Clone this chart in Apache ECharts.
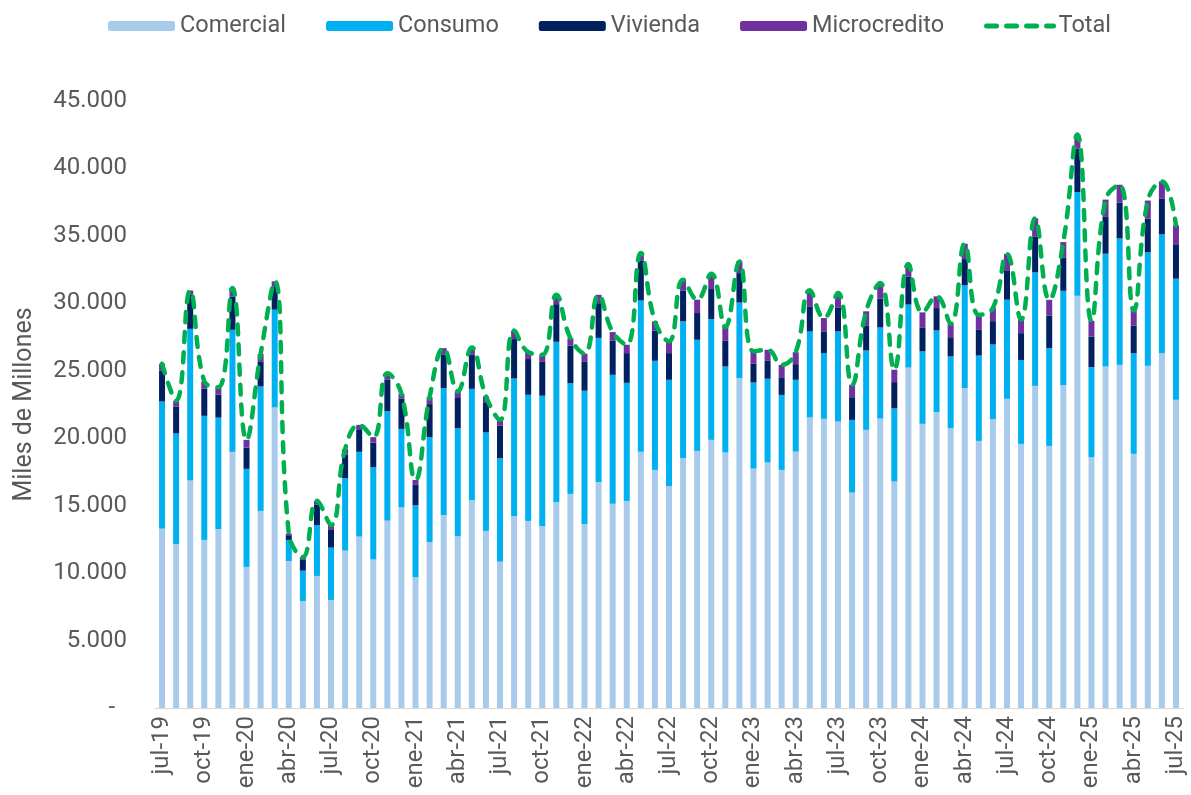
<!DOCTYPE html>
<html>
<head>
<meta charset="utf-8">
<script src="https://cdn.jsdelivr.net/npm/echarts@6/dist/echarts.min.js"></script>
<style>
  html, body { margin: 0; padding: 0; background: #fff; }
  #chart { width: 1191px; height: 795px; }
</style>
</head>
<body>
<div id="chart"></div>
<script>
// meses jul-19 .. jul-25
const monthNames = ['ene', 'feb', 'mar', 'abr', 'may', 'jun', 'jul', 'ago', 'sep', 'oct', 'nov', 'dic'];
const categories = [];
for (let i = 0; i < 73; i++) {
  const m = (6 + i) % 12;
  const y = 19 + Math.floor((6 + i) / 12);
  categories.push(monthNames[m] + '-' + y);
}

const comercial = [
  13300, 12160, 16860, 12460, 13270, 18990, 10460, 14610, 22280, 10900, 7930, 9790,
  8010, 11670, 12710, 11020, 13890, 14880, 9690, 12310, 14310, 12730, 15400, 13130,
  10850, 14240, 13870, 13500, 15250, 15870, 13650, 16760, 15150, 15350, 18990, 17650,
  16460, 18540, 19060, 19880, 18940, 24450, 17750, 18200, 17650, 19010, 21540, 21440,
  21240, 15970, 20620, 21460, 16790, 25240, 21070, 21930, 20740, 23710, 19800, 21410,
  22920, 19580, 23880, 19430, 23930, 30560, 18590, 25320, 25440, 18840, 25370, 26310,
  22850
];
const consumo = [
  9420, 8190, 11250, 9200, 8260, 9050, 7270, 9230, 7250, 1560, 2250, 3760,
  3880, 5370, 6280, 6830, 8110, 5810, 5340, 7770, 9400, 8010, 8260, 7300,
  7670, 10190, 9350, 9650, 11900, 8210, 9870, 10680, 9550, 8760, 11230, 8090,
  7870, 10120, 8240, 8950, 6380, 5610, 6380, 6210, 5560, 5320, 6380, 4870,
  6680, 5390, 5890, 6750, 5420, 4670, 5370, 6060, 5320, 7620, 6330, 5540,
  7350, 6210, 8410, 7250, 7000, 7690, 6680, 8360, 9370, 7470, 8410, 8800,
  8980
];
const vivienda = [
  2300, 2000, 2520, 2030, 1710, 2470, 1580, 1860, 1730, 350, 840, 1510,
  1310, 1730, 1680, 1830, 2330, 2250, 1510, 2450, 2470, 2300, 2520, 2180,
  2420, 2920, 2650, 2550, 2790, 2790, 2180, 2570, 2550, 2200, 2970, 2250,
  1980, 2300, 1980, 2230, 1930, 2180, 1390, 1360, 1310, 1160, 1860, 1610,
  1780, 1680, 1860, 2150, 1950, 2080, 1780, 1660, 1430, 1950, 1900, 1730,
  2180, 2000, 2670, 2420, 2470, 3220, 2270, 2770, 2670, 2050, 2500, 2670,
  2550
];
const microcredito = [
  500, 420, 320, 520, 540, 620, 570, 540, 370, 120, 170, 300,
  370, 420, 320, 400, 490, 350, 370, 520, 500, 420, 540, 500,
  420, 640, 520, 490, 690, 540, 570, 620, 620, 620, 540, 670,
  870, 790, 990, 1140, 990, 870, 920, 790, 920, 890, 1190, 990,
  1060, 920, 1040, 1140, 920, 920, 1110, 870, 990, 1140, 1110, 970,
  1210, 990, 1340, 1160, 1140, 1040, 1160, 1240, 1310, 1110, 1340, 1260,
  1410
];
const total = [
  25520, 22770, 30950, 24210, 23780, 31130, 19880, 26240, 31630, 12930, 11190, 15360,
  13570, 19190, 20990, 20080, 24820, 23290, 16910, 23050, 26680, 23460, 26720, 23110,
  21360, 27990, 26390, 26190, 30630, 27410, 26270, 30630, 27870, 26930, 33730, 28660,
  27180, 31750, 30270, 32200, 28240, 33110, 26440, 26560, 25440, 26380, 30970, 28910,
  30760, 23960, 29410, 31500, 25080, 32910, 29330, 30520, 28480, 34420, 29140, 29650,
  33660, 28780, 36300, 30260, 34540, 42510, 28700, 37690, 38790, 29470, 37620, 39040,
  35790
];

const textColor = '#595959';
const fontFamily = 'Roboto, "Liberation Sans", sans-serif';

// formato contable: separador de miles con punto, cero como guion
function formatMiles(v) {
  if (v === 0) return '-  ';
  return String(v).replace(/\B(?=(\d{3})+(?!\d))/g, '.');
}

const chart = echarts.init(document.getElementById('chart'));

const barSeries = (name, data, color) => ({
  name: name,
  type: 'bar',
  stack: 'cartera',
  data: data,
  barWidth: 6,
  itemStyle: { color: color },
  emphasis: { disabled: true }
});

chart.setOption({
  animation: false,
  textStyle: { fontFamily: fontFamily },
  legend: {
    top: 9,
    left: 103,
    itemWidth: 67,
    itemHeight: 10,
    itemGap: 40,
    textStyle: { color: textColor, fontSize: 23.5, fontFamily: fontFamily },
    data: [
      'Comercial', 'Consumo', 'Vivienda', 'Microcredito',
      { name: 'Total', itemStyle: { opacity: 0 }, lineStyle: { width: 5 } }
    ]
  },
  grid: {
    left: 155,
    right: 8,
    top: 101,
    bottom: 87,
    containLabel: false
  },
  xAxis: {
    type: 'category',
    data: categories,
    axisLine: { lineStyle: { color: '#d9d9d9', width: 1 } },
    axisTick: { show: false },
    axisLabel: {
      interval: 2,
      rotate: 90,
      color: textColor,
      fontSize: 24,
      margin: 8,
      fontFamily: fontFamily
    }
  },
  yAxis: {
    type: 'value',
    min: 0,
    max: 45000,
    interval: 5000,
    name: 'Miles de Millones',
    nameLocation: 'middle',
    nameGap: 118,
    nameTextStyle: { color: textColor, fontSize: 25, fontFamily: fontFamily },
    axisLine: { show: false },
    axisTick: { show: false },
    splitLine: { show: false },
    axisLabel: {
      color: textColor,
      fontSize: 24,
      margin: 28,
      fontFamily: fontFamily,
      formatter: formatMiles
    }
  },
  series: [
    barSeries('Comercial', comercial, '#a9cbeb'),
    barSeries('Consumo', consumo, '#00b0f0'),
    barSeries('Vivienda', vivienda, '#002060'),
    barSeries('Microcredito', microcredito, '#7030a0'),
    {
      name: 'Total',
      type: 'line',
      data: total,
      smooth: 0.45,
      symbol: 'none',
      z: 5,
      itemStyle: { color: '#00b050' },
      lineStyle: { color: '#00b050', width: 4.5, type: [10, 10], cap: 'round' }
    }
  ]
});
</script>
</body>
</html>
